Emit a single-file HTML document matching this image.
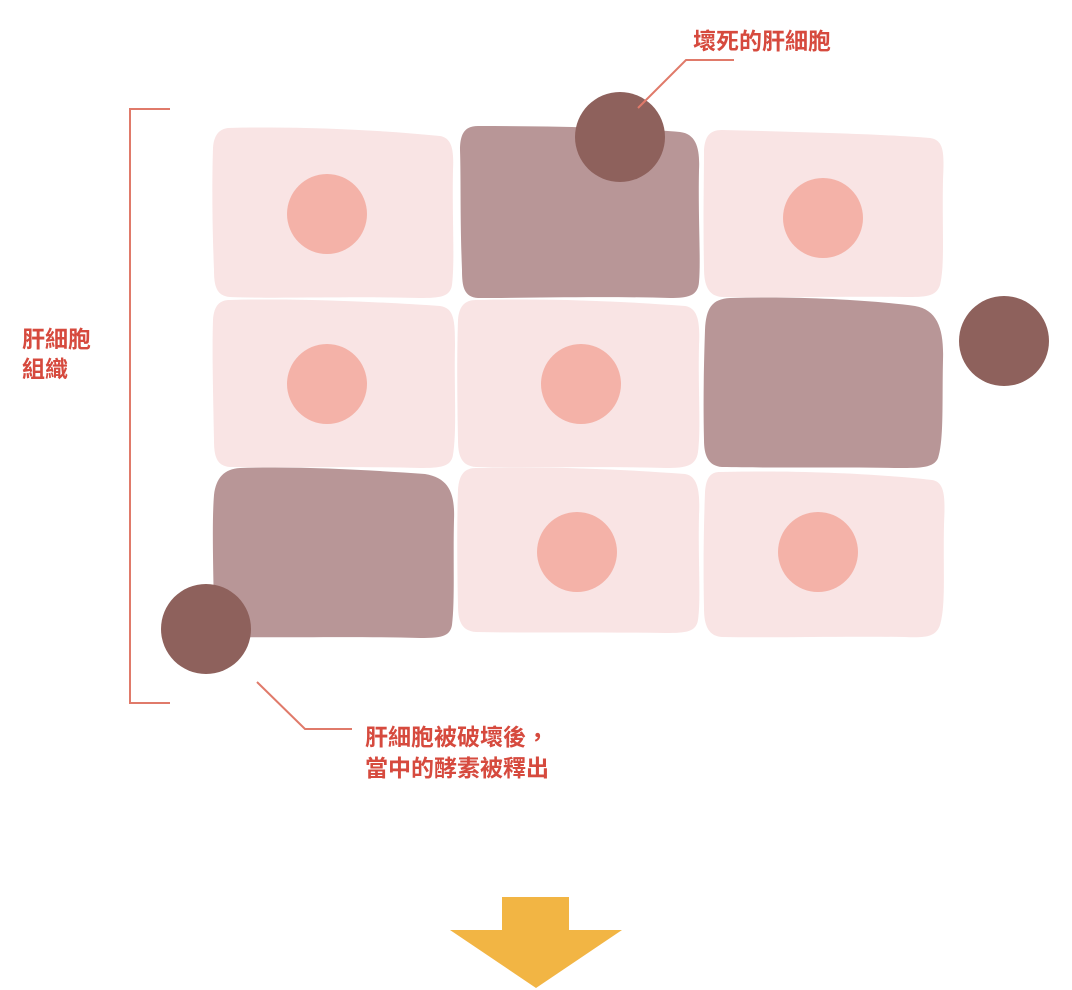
<!DOCTYPE html>
<html><head><meta charset="utf-8"><style>
html,body{margin:0;padding:0;background:#fff;width:1072px;height:990px;overflow:hidden}
svg text{font-family:"Liberation Sans","Noto Sans CJK TC",sans-serif;font-weight:bold;fill:#d64a3e}
</style></head><body>
<svg width="1072" height="990" viewBox="0 0 1072 990" xmlns="http://www.w3.org/2000/svg">
<path d="M228,128 C300,126 380,130 440,136 C452,138 454,150 453,170 C452,220 455,260 452,285 C450,297 440,298 420,298 C350,296 280,299 230,297 C216,296 214,285 214,270 C212,220 212,180 213,148 C214,134 220,129 228,128Z" fill="#f9e4e4"/>
<path d="M478,126 C560,126 630,128 680,132 C697,134 700,150 699,170 C698,220 701,260 699,282 C698,296 688,298 670,298 C600,296 530,298 478,298 C464,297 462,287 462,270 C460,220 461,180 460,150 C460,132 466,126 478,126Z" fill="#b89697"/>
<path d="M722,130 C800,132 880,134 930,138 C945,140 944,155 943,180 C942,230 945,265 940,285 C936,297 925,297 905,297 C840,296 770,298 722,297 C708,296 704,285 704,268 C703,220 704,180 704,150 C705,136 710,130 722,130Z" fill="#f9e4e4"/>
<path d="M230,300 C300,298 380,302 440,306 C454,308 455,320 455,345 C454,390 457,430 453,455 C451,467 440,468 420,468 C350,466 280,468 230,467 C216,466 214,455 214,440 C213,390 212,350 213,320 C214,305 220,300 230,300Z" fill="#f9e4e4"/>
<path d="M476,300 C560,298 630,302 685,306 C699,308 700,325 699,345 C698,390 701,430 698,452 C696,466 686,468 666,468 C600,466 530,468 476,467 C461,466 458,455 458,440 C457,390 457,350 458,320 C459,306 465,300 476,300Z" fill="#f9e4e4"/>
<path d="M730,298 C800,296 870,300 915,306 C938,310 944,330 943,360 C942,400 944,440 938,458 C934,468 920,468 900,468 C840,467 770,468 722,467 C708,466 704,455 704,440 C703,400 704,360 705,330 C706,308 712,299 730,298Z" fill="#b89697"/>
<path d="M240,468 C300,466 370,470 425,474 C450,478 455,495 454,520 C453,560 455,600 452,625 C450,637 440,638 420,638 C350,636 280,638 230,637 C216,636 214,625 214,610 C213,560 212,520 214,495 C216,478 224,469 240,468Z" fill="#b89697"/>
<path d="M476,468 C560,466 630,470 685,474 C699,476 700,495 699,515 C698,560 701,600 698,620 C696,632 686,633 666,633 C600,632 530,633 476,632 C461,631 458,620 458,605 C457,560 457,520 458,490 C459,474 465,468 476,468Z" fill="#f9e4e4"/>
<path d="M720,472 C800,470 880,474 932,480 C946,482 945,500 944,525 C943,570 946,605 940,625 C936,637 925,638 905,637 C840,636 770,638 722,637 C708,636 704,625 704,608 C703,560 704,520 705,492 C706,477 711,472 720,472Z" fill="#f9e4e4"/>
<g fill="#f4b2a8">
<circle cx="327" cy="214" r="40"/><circle cx="823" cy="218" r="40"/>
<circle cx="327" cy="384" r="40"/><circle cx="581" cy="384" r="40"/>
<circle cx="577" cy="552" r="40"/><circle cx="818" cy="552" r="40"/>
</g>
<g fill="#8e615c">
<circle cx="620" cy="137" r="45"/><circle cx="1004" cy="341" r="45"/><circle cx="206" cy="629" r="45"/>
</g>
<g stroke="#e07a6a" stroke-width="2" fill="none">
<polyline points="638,108 686,60 734,60"/>
<polyline points="257,682 305,729 352,729"/>
<polyline points="170,109 130,109 130,703 170,703"/>
</g>
<text x="693" y="49" font-size="23">壞死的肝細胞</text>
<text x="22" y="347" font-size="23">肝細胞</text>
<text x="22" y="377" font-size="23">組織</text>
<text x="365" y="745" font-size="23">肝細胞被破壞後，</text>
<text x="365" y="776" font-size="23">當中的酵素被釋出</text>
<polygon points="502,897 569,897 569,930 622,930 536,988 450,930 502,930" fill="#f2b544"/>
</svg>
</body></html>
